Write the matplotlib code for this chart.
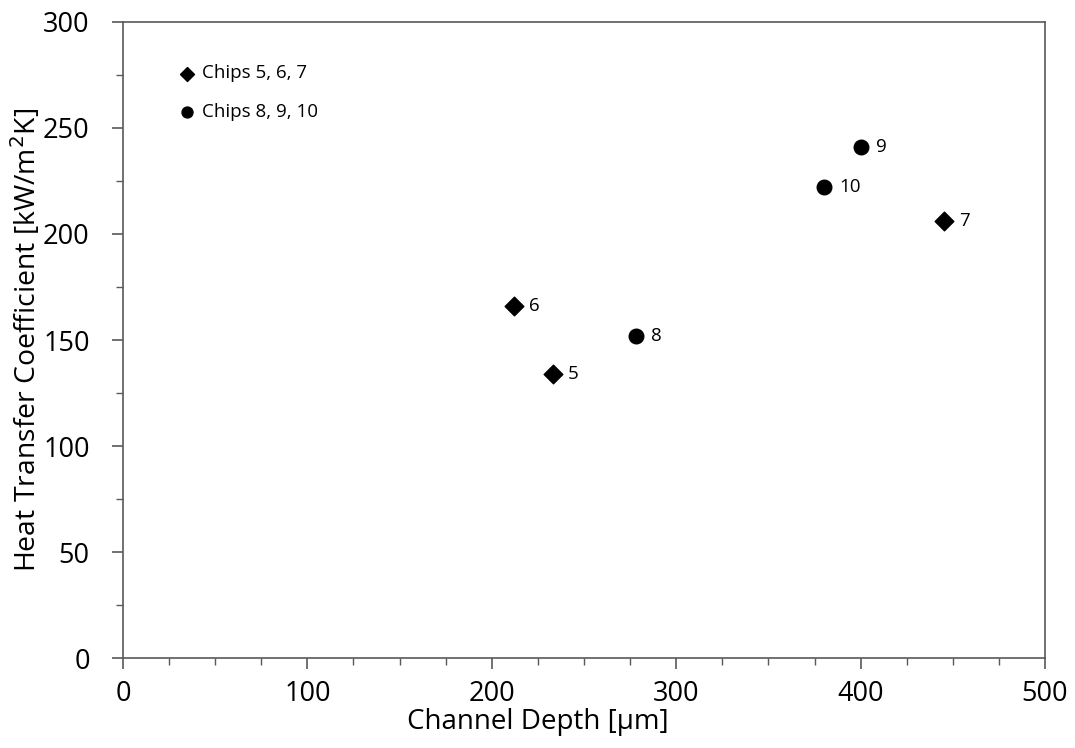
import matplotlib
matplotlib.use("Agg")
import matplotlib.pyplot as plt
from matplotlib.ticker import MultipleLocator

# chips 5, 6, 7 (diamonds)
depth_a = [233, 212, 445]
htc_a = [134, 166, 206]
labels_a = ["5", "6", "7"]

# chips 8, 9, 10 (circles)
depth_b = [278, 400, 380]
htc_b = [152, 241, 222]
labels_b = ["8", "9", "10"]

plt.rcParams["font.family"] = ["Open Sans", "DejaVu Sans"]

fig = plt.figure(figsize=(10.75, 7.48), dpi=100)
ax = fig.add_axes([0.1144, 0.1203, 0.8577, 0.8503])

ax.scatter(depth_a, htc_a, marker="D", s=90, color="black", label="Chips 5, 6, 7", zorder=3)
ax.scatter(depth_b, htc_b, marker="o", s=110, color="black", label="Chips 8, 9, 10", zorder=3)

for x, y, t in zip(depth_a + depth_b, htc_a + htc_b, labels_a + labels_b):
    ax.annotate(t, (x, y), xytext=(11, 0), textcoords="offset points",
                va="center", ha="left", fontsize=13.5)

ax.set_xlim(0, 500)
ax.set_ylim(0, 300)
ax.xaxis.set_major_locator(MultipleLocator(100))
ax.xaxis.set_minor_locator(MultipleLocator(25))
ax.yaxis.set_major_locator(MultipleLocator(50))
ax.yaxis.set_minor_locator(MultipleLocator(25))

edge = "#595959"
for sp in ax.spines.values():
    sp.set_color(edge)
    sp.set_linewidth(1.2)
ax.tick_params(which="major", direction="out", length=8, width=1.2, color=edge,
               labelsize=19.5)
ax.tick_params(axis="y", which="major", pad=16)
ax.tick_params(axis="x", which="major", pad=8)
ax.tick_params(which="minor", direction="out", length=5, width=1.0, color=edge)

ax.set_xlabel("Channel Depth [µm]", fontsize=20, labelpad=0, x=0.45)
ax.set_ylabel("Heat Transfer Coefficient [kW/m$^2$K]", fontsize=20.4, labelpad=0)

ax.legend(loc="upper left", bbox_to_anchor=(0.041, 0.945), frameon=False,
          fontsize=13.5, handletextpad=-0.2, labelspacing=1.1, markerscale=0.75,
          borderaxespad=0)

fig.savefig("out.png", dpi=100)
